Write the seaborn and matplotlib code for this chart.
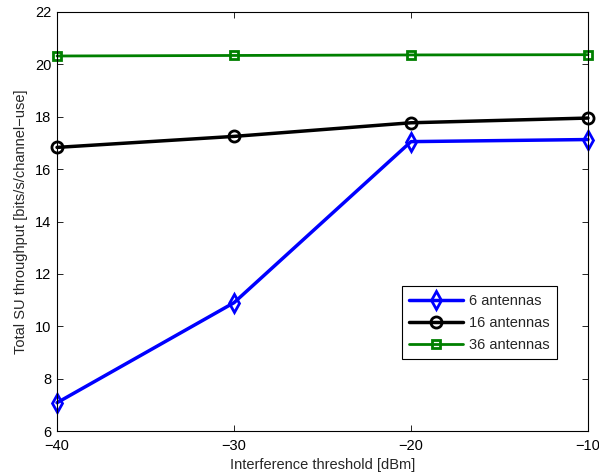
import numpy as np
import pandas as pd
import seaborn as sns
import matplotlib.pyplot as plt

# Datos
thresholds = [-40, -30, -20, -10]
tp_6 = [7.08, 10.9, 17.05, 17.13]
tp_16 = [16.83, 17.25, 17.77, 17.95]
tp_36 = [20.32, 20.34, 20.36, 20.37]
labels = ['6 antennas', '16 antennas', '36 antennas']

df = pd.DataFrame({
    'x': thresholds * 3,
    'y': tp_6 + tp_16 + tp_36,
    'serie': [labels[0]] * 4 + [labels[1]] * 4 + [labels[2]] * 4,
})

sns.set_style('white')
plt.rcParams['font.family'] = ['Liberation Sans', 'DejaVu Sans']
plt.rcParams['xtick.direction'] = 'in'
plt.rcParams['ytick.direction'] = 'in'

fig = plt.figure(figsize=(5.99, 4.76), dpi=100)
ax = fig.add_axes([0.0952, 0.0945, 0.8864, 0.8803])

colors = ['#0000ff', '#000000', '#008000']
markers = ['d', 'o', 's']
sizes = [9, 8, 6]
widths = [2.5, 2.5, 2.0]
for lab, c, m, ms, lw in zip(labels, colors, markers, sizes, widths):
    sub = df[df['serie'] == lab]
    sns.lineplot(data=sub, x='x', y='y', ax=ax, color=c, marker=m, markersize=ms,
                 markerfacecolor='none', markeredgecolor=c, markeredgewidth=2,
                 linewidth=lw, label=lab, clip_on=False)

ax.set_xlim(-40, -10)
ax.set_ylim(6, 22)
ax.set_xticks([-40, -30, -20, -10])
ax.set_xticklabels(['\u221240', '\u221230', '\u221220', '\u221210'])
ax.set_yticks(np.arange(6, 23, 2))
ax.tick_params(axis='both', labelsize=10.5, length=4, width=0.6, colors='black',
               top=True, right=True, bottom=True, left=True)
ax.tick_params(axis='x', pad=6)
ax.tick_params(axis='y', pad=4)
for s in ax.spines.values():
    s.set_color('black')
    s.set_linewidth(0.8)
ax.set_xlabel('Interference threshold [dBm]', fontsize=10.5, labelpad=3)
ax.set_ylabel('Total SU throughput [bits/s/channel\u2212use]', fontsize=10.5, labelpad=5)

leg = ax.legend(loc='lower right', bbox_to_anchor=(0.942, 0.172), borderaxespad=0,
                fontsize=10.5, fancybox=False, framealpha=1, edgecolor='black',
                handlelength=3.7, borderpad=0.5, labelspacing=0.55, handletextpad=0.4)
leg.get_frame().set_linewidth(0.8)

fig.savefig('out.png', dpi=100)
